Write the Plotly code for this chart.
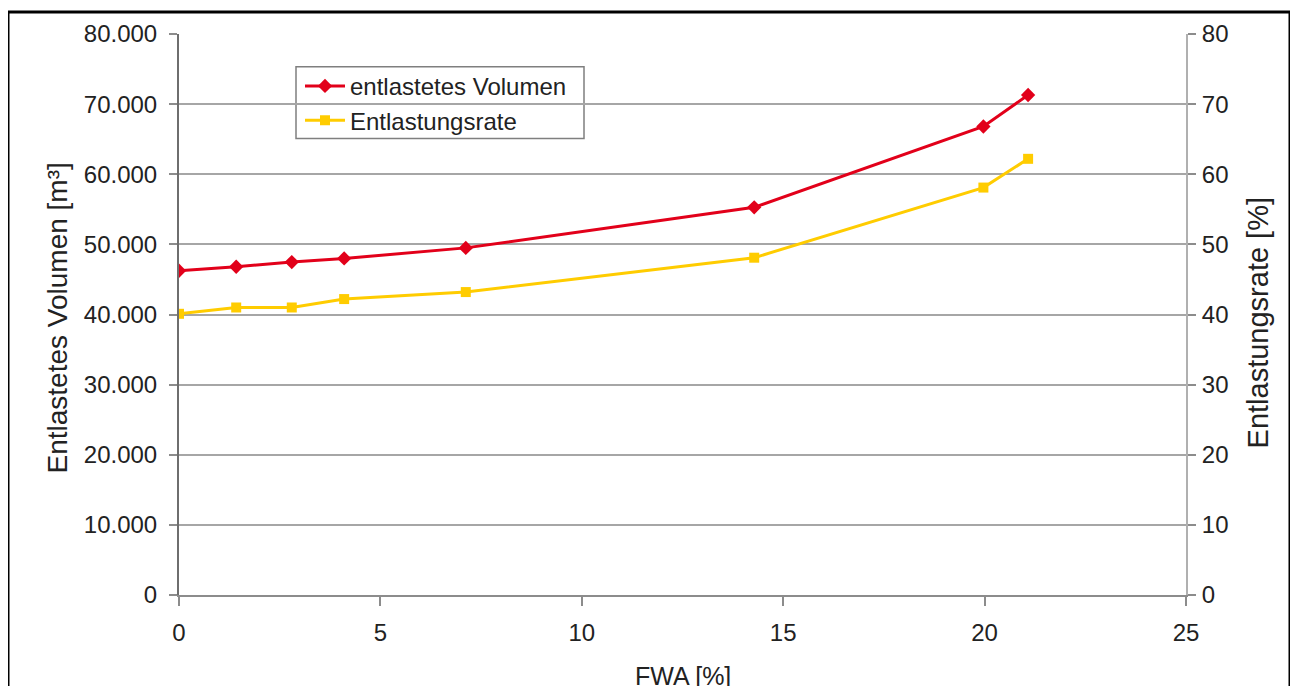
import plotly.graph_objects as go

# Data
fwa = [0, 1.42, 2.8, 4.1, 7.12, 14.28, 19.97, 21.08]
volumen = [46240, 46810, 47480, 47990, 49500, 55280, 66810, 71300]
rate = [40.1, 41.0, 41.0, 42.2, 43.2, 48.1, 58.1, 62.2]

name_vol = "entlastetes Volumen"
name_rate = "Entlastungsrate"
x_title = "FWA [%]"
y_title = "Entlastetes Volumen [m³]"
y2_title = "Entlastungsrate [%]"

RED = "#E2001A"
YEL = "#FFCC00"
FONT = "Liberation Sans, Arial, sans-serif"

fig = go.Figure()
fig.add_trace(go.Scatter(
    x=fwa, y=volumen, name=name_vol, mode="lines+markers",
    line=dict(color=RED, width=3),
    marker=dict(symbol="diamond", size=11, color=RED),
    yaxis="y"))
fig.add_trace(go.Scatter(
    x=fwa, y=rate, name=name_rate, mode="lines+markers",
    line=dict(color=YEL, width=3),
    marker=dict(symbol="square", size=10, color=YEL),
    yaxis="y2"))

# plot area in page pixels: x 179..1186, y 31..595 (page body has an 8px margin)
W, H = 1290, 678
L, T = 171, 23
PW, PH = 1007, 564
R = W - L - PW
B = H - T - PH


def px_x(p):
    return (p - 179) / PW


def px_y(p):
    return (595 - p) / PH


grid = "#A6A6A6"
fig.update_layout(
    width=W, height=H,
    margin=dict(l=L, r=R, t=T, b=B, pad=0),
    paper_bgcolor="white", plot_bgcolor="white",
    separators=",.",
    font=dict(family=FONT, size=24, color="#222222"),
    showlegend=True,
    legend=dict(
        x=px_x(300), y=px_y(61), xanchor="left", yanchor="top",
        bgcolor="rgba(0,0,0,0)", borderwidth=0,
        font=dict(family=FONT, size=24, color="#222222"),
        traceorder="normal", itemwidth=40,
    ),
    xaxis=dict(
        range=[0, 25], tickvals=[0, 5, 10, 15, 20, 25],
        showgrid=False, zeroline=False,
        showline=True, linecolor="#8C8C8C", linewidth=2,
        ticks="outside", ticklen=9, tickcolor="#8C8C8C", tickwidth=1.5,
        ticklabelstandoff=6,
        tickfont=dict(family=FONT, size=24, color="#222222"),
    ),
    yaxis=dict(
        range=[0, 80000], tickvals=[0, 10000, 20000, 30000, 40000, 50000, 60000, 70000, 80000],
        tickformat=",d",
        showgrid=True, gridcolor=grid, gridwidth=1.5, zeroline=False,
        showline=True, linecolor="#6E6E6E", linewidth=2,
        ticks="outside", ticklen=8, tickcolor="#8C8C8C", tickwidth=1.5,
        ticklabelstandoff=7,
        tickfont=dict(family=FONT, size=24, color="#222222"),
    ),
    yaxis2=dict(
        range=[0, 80], tickvals=[0, 10, 20, 30, 40, 50, 60, 70, 80],
        overlaying="y", side="right", anchor="x",
        showgrid=False, zeroline=False,
        showline=True, linecolor="#B0B0B0", linewidth=2,
        ticks="outside", ticklen=8, tickcolor="#8C8C8C", tickwidth=1.5,
        ticklabelstandoff=1,
        tickfont=dict(family=FONT, size=24, color="#222222"),
    ),
    annotations=[
        dict(text=x_title, xref="paper", yref="paper", x=0.5, y=px_y(676),
             xanchor="center", yanchor="middle", showarrow=False,
             font=dict(family=FONT, size=25, color="#222222")),
        dict(text=y_title, xref="paper", yref="paper", x=px_x(57), y=px_y(317),
             xanchor="center", yanchor="middle", showarrow=False, textangle=-90,
             font=dict(family=FONT, size=28, color="#222222")),
        dict(text=y2_title, xref="paper", yref="paper", x=px_x(1258), y=px_y(322),
             xanchor="center", yanchor="middle", showarrow=False, textangle=-90,
             font=dict(family=FONT, size=29, color="#222222")),
    ],
    shapes=[
        # legend frame
        dict(type="rect", xref="paper", yref="paper",
             x0=px_x(296), x1=px_x(584), y0=px_y(136), y1=px_y(64),
             line=dict(color="#7F7F7F", width=1.5), fillcolor="white", layer="below"),
        # outer black frame
        dict(type="rect", xref="paper", yref="paper",
             x0=px_x(8), x1=px_x(1290), y0=px_y(720), y1=px_y(9),
             line=dict(color="black", width=3), layer="above"),
    ],
)

fig.write_html("out.html")
